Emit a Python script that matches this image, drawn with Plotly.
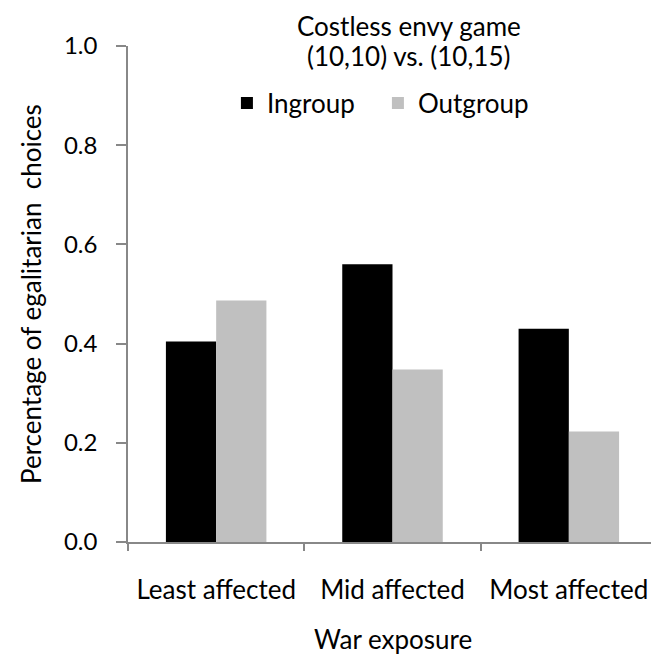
import plotly.graph_objects as go

categories = ["Least affected", "Mid affected", "Most affected"]
ingroup = [0.404, 0.560, 0.430]
outgroup = [0.487, 0.348, 0.223]
y_ticks = [0.0, 0.2, 0.4, 0.6, 0.8, 1.0]
y_tick_labels = ["0.0", "0.2", "0.4", "0.6", "0.8", "1.0"]
title_lines = ["Costless envy game", "(10,10) vs. (10,15)"]
x_title = "War exposure"
y_title = "Percentage of egalitarian  choices"

FONT = "Lato, Open Sans, sans-serif"
AX = "#888888"
FS = 26

fig = go.Figure()
fig.add_trace(go.Bar(name="Ingroup", x=categories, y=ingroup,
                     marker=dict(color="#000000", line=dict(width=0))))
fig.add_trace(go.Bar(name="Outgroup", x=categories, y=outgroup,
                     marker=dict(color="#C0C0C0", line=dict(width=0))))

fig.update_layout(
    width=651, height=648,
    margin=dict(l=120, r=2, t=38, b=114, autoexpand=False),
    paper_bgcolor="white", plot_bgcolor="white",
    font=dict(family=FONT, size=FS, color="#000000"),
    barmode="group", bargap=0.43, bargroupgap=0,
    legend=dict(orientation="h", x=0.187, xanchor="left",
                y=0.885, yanchor="middle", font=dict(family=FONT, size=FS),
                entrywidth=106, entrywidthmode="pixels",
                traceorder="normal", bgcolor="rgba(0,0,0,0)"),
    xaxis=dict(showline=True, linecolor=AX, linewidth=1.5,
               ticks="outside", ticklen=7, tickcolor=AX, tickwidth=1.5,
               tickson="boundaries", showgrid=False,
               ticklabelstandoff=24,
               tickfont=dict(family=FONT, size=FS)),
    yaxis=dict(range=[0, 1], tickvals=y_ticks, ticktext=y_tick_labels,
               showline=True, linecolor=AX, linewidth=1.5,
               ticks="outside", ticklen=10, tickcolor=AX, tickwidth=1.5,
               showgrid=False, zeroline=False,
               ticklabelstandoff=14,
               tickfont=dict(family=FONT, size=24)),
    annotations=[
        dict(text=title_lines[0], xref="paper", yref="paper", x=0.531, y=1.0403,
             xanchor="center", yanchor="middle", showarrow=False,
             font=dict(family=FONT, size=FS)),
        dict(text=title_lines[1], xref="paper", yref="paper", x=0.531, y=0.9798,
             xanchor="center", yanchor="middle", showarrow=False,
             font=dict(family=FONT, size=FS)),
        dict(text=x_title, xref="paper", yref="paper", x=0.5, y=-0.1956,
             xanchor="center", yanchor="middle", showarrow=False,
             font=dict(family=FONT, size=FS)),
        dict(text=y_title, xref="paper", yref="paper", x=-0.1834, y=0.5,
             xanchor="center", yanchor="middle", showarrow=False, textangle=-90,
             font=dict(family=FONT, size=FS)),
    ],
)

fig.write_html("out.html")
